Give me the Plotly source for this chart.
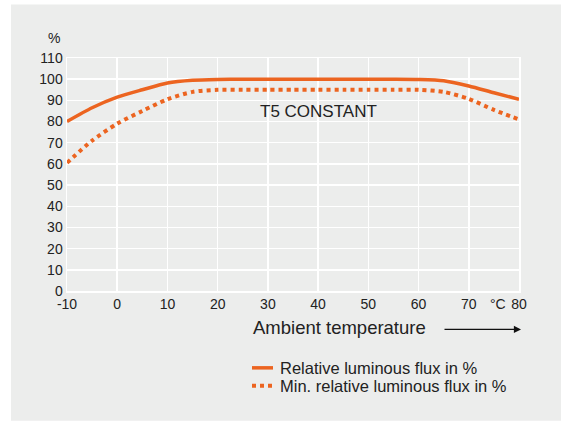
import plotly.graph_objects as go

temps = [-10, -5, 0, 5, 10, 15, 20, 25, 30, 35, 40, 45, 50, 55, 60, 65, 70, 75, 80]
rel_flux = [80, 86.5, 91.5, 95, 98.2, 99.5, 99.9, 100, 100, 100, 100, 100, 100, 100, 99.9, 99.3, 96.8, 93.6, 90.5]
min_rel_flux = [60.5, 71, 79, 85, 90.5, 94, 95, 95, 95, 95, 95, 95, 95, 95, 95, 94, 90.7, 85.5, 81]

x_ticks = [-10, 0, 10, 20, 30, 40, 50, 60, 70, 80]
y_ticks = [0, 10, 20, 30, 40, 50, 60, 70, 80, 90, 100, 110]

ORANGE = "#ec6420"
BG = "#ecedec"
TXT = "#222222"
FONT = "Liberation Sans, Arial, sans-serif"

W, H = 561, 421
L, R, T, B = 67, 42, 57.5, 130
pw, ph = W - L - R, H - T - B

def px_x(p):
    return (p - L) / pw

def px_y(p):
    return (H - B - p) / ph

fig = go.Figure()
fig.add_trace(go.Scatter(x=temps, y=rel_flux, mode="lines",
                         line=dict(color=ORANGE, width=3.5, shape="spline", smoothing=0.7),
                         name="Relative luminous flux in %", showlegend=False, hoverinfo="skip"))
fig.add_trace(go.Scatter(x=temps, y=min_rel_flux, mode="lines",
                         line=dict(color=ORANGE, width=4, dash="dot", shape="spline", smoothing=0.7),
                         name="Min. relative luminous flux in %", showlegend=False, hoverinfo="skip"))

shapes = [
    dict(type="rect", xref="paper", yref="paper", x0=px_x(11), x1=px_x(561),
         y0=px_y(421), y1=px_y(4), fillcolor=BG, line=dict(width=0), layer="below"),
    dict(type="line", xref="paper", yref="paper", x0=px_x(252), x1=px_x(273),
         y0=px_y(368), y1=px_y(368), line=dict(color=ORANGE, width=3.5)),
    dict(type="line", xref="paper", yref="paper", x0=px_x(252), x1=px_x(274),
         y0=px_y(386), y1=px_y(386), line=dict(color=ORANGE, width=4, dash="dot")),
]

annotations = [
    dict(text="%", xref="paper", yref="paper", x=px_x(62), y=px_y(37),
         xanchor="right", yanchor="middle", showarrow=False,
         font=dict(size=14, color=TXT, family=FONT)),
    dict(text="°C", xref="paper", yref="paper", x=px_x(497.5), y=px_y(304),
         xanchor="center", yanchor="middle", showarrow=False,
         font=dict(size=14, color=TXT, family=FONT)),
    dict(text="T5 CONSTANT", xref="paper", yref="paper", x=px_x(258), y=px_y(111),
         xanchor="left", yanchor="middle", showarrow=False,
         font=dict(size=17, color=TXT, family=FONT)),
    dict(text="Ambient temperature", xref="paper", yref="paper", x=px_x(251), y=px_y(328),
         xanchor="left", yanchor="middle", showarrow=False,
         font=dict(size=18.5, color=TXT, family=FONT)),
    dict(text="", xref="paper", yref="paper", x=px_x(521), y=px_y(329.5),
         ax=-78, ay=0, showarrow=True, arrowhead=2, arrowsize=1.1, arrowwidth=1.3,
         arrowcolor="#111111", standoff=0),
    dict(text="Relative luminous flux in %", xref="paper", yref="paper", x=px_x(277.5), y=px_y(368),
         xanchor="left", yanchor="middle", showarrow=False,
         font=dict(size=16.5, color=TXT, family=FONT)),
    dict(text="Min. relative luminous flux in %", xref="paper", yref="paper", x=px_x(277.5), y=px_y(386),
         xanchor="left", yanchor="middle", showarrow=False,
         font=dict(size=16.5, color=TXT, family=FONT)),
]

fig.update_layout(
    width=W, height=H,
    margin=dict(l=L, r=R, t=T, b=B, pad=0),
    paper_bgcolor="white",
    plot_bgcolor="rgba(0,0,0,0)",
    shapes=shapes,
    annotations=annotations,
    showlegend=False,
    hovermode=False,
    xaxis=dict(range=[-10, 80], tickvals=x_ticks, ticktext=[str(v) for v in x_ticks],
               showgrid=True, gridcolor="white", gridwidth=1.5, zeroline=False,
               showline=True, linecolor="white", linewidth=1.5, mirror=True,
               ticks="", tickfont=dict(size=14, color=TXT, family=FONT)),
    yaxis=dict(range=[0, 110], tickvals=y_ticks, ticktext=[str(v) for v in y_ticks],
               showgrid=True, gridcolor="white", gridwidth=1.5, zeroline=False,
               showline=True, linecolor="white", linewidth=1.5, mirror=True,
               ticks="", tickfont=dict(size=14, color=TXT, family=FONT)),
)

fig.write_html("out.html",
               config={"displayModeBar": False, "staticPlot": True},
               post_script="document.body.style.margin='0';document.body.style.padding='0';document.body.style.overflow='hidden';")
